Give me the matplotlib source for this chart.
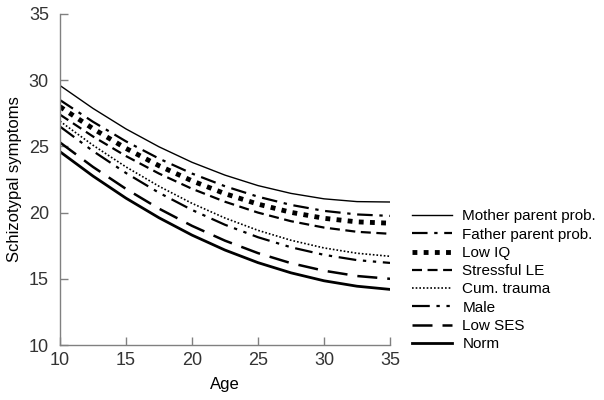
import matplotlib
matplotlib.use('Agg')
import matplotlib.pyplot as plt

plt.rcParams['font.family'] = ['Liberation Sans', 'DejaVu Sans']

age = [10, 12.5, 15, 17.5, 20, 22.5, 25, 27.5, 30, 32.5, 35]

mother = [29.6, 27.87, 26.32, 24.97, 23.8, 22.83, 22.04, 21.45, 21.04, 20.83, 20.8]
father = [28.5, 26.86, 25.38, 24.08, 22.95, 21.99, 21.2, 20.58, 20.13, 19.86, 19.75]
low_iq = [28.0, 26.34, 24.85, 23.54, 22.4, 21.43, 20.64, 20.02, 19.57, 19.3, 19.2]
stress_le = [27.4, 25.75, 24.27, 22.95, 21.8, 20.82, 20.0, 19.35, 18.87, 18.55, 18.4]
cum_trauma = [26.9, 25.09, 23.45, 21.99, 20.7, 19.59, 18.66, 17.91, 17.33, 16.93, 16.7]
male = [26.5, 24.65, 22.99, 21.5, 20.2, 19.08, 18.14, 17.38, 16.81, 16.41, 16.2]
low_ses = [25.3, 23.45, 21.79, 20.3, 19.0, 17.88, 16.94, 16.18, 15.61, 15.21, 15.0]
norm = [24.6, 22.76, 21.09, 19.61, 18.3, 17.17, 16.22, 15.45, 14.85, 14.44, 14.2]

fig = plt.figure(figsize=(6.04, 4.0), dpi=100)
ax = fig.add_axes([0.0993, 0.1375, 0.5464, 0.8275])

ax.plot(age, mother, color='black', lw=1.0, label='Mother parent prob.')
ax.plot(age, father, color='black', lw=1.6, dashes=(7, 3, 1.5, 3), label='Father parent prob.')
ax.plot(age, low_iq, color='black', lw=3.5, dashes=(1, 1.3), label='Low IQ')
ax.plot(age, stress_le, color='black', lw=1.6, dashes=(4.5, 2.5), label='Stressful LE')
ax.plot(age, cum_trauma, color='black', lw=1.2, dashes=(1, 1.2), label='Cum. trauma')
ax.plot(age, male, color='black', lw=1.6, dashes=(8, 3, 1.5, 3, 1.5, 3), label='Male')
ax.plot(age, low_ses, color='black', lw=1.8, dashes=(8, 4), label='Low SES')
ax.plot(age, norm, color='black', lw=2.0, label='Norm')

ax.set_xlim(10, 35)
ax.set_ylim(10, 35)
ax.set_xticks([10, 15, 20, 25, 30, 35])
ax.set_yticks([10, 15, 20, 25, 30, 35])

for side in ['top', 'right']:
    ax.spines[side].set_visible(False)
for side in ['left', 'bottom']:
    ax.spines[side].set_color('#808080')
    ax.spines[side].set_linewidth(1.0)
ax.tick_params(direction='in', length=6, width=1, color='#808080',
               labelsize=13, labelcolor='#333333')
ax.tick_params(axis='y', pad=8)
ax.tick_params(axis='x', pad=5)

ax.set_xlabel('Age', fontsize=12, labelpad=6)
ax.set_ylabel('Schizotypal symptoms', fontsize=12, labelpad=5)

fig.legend(loc='upper left', bbox_to_anchor=(0.672, 0.492), frameon=False,
           fontsize=11, handlelength=2.6, handletextpad=0.7,
           labelspacing=0.28, borderaxespad=0)

plt.savefig('out.png', dpi=100)
